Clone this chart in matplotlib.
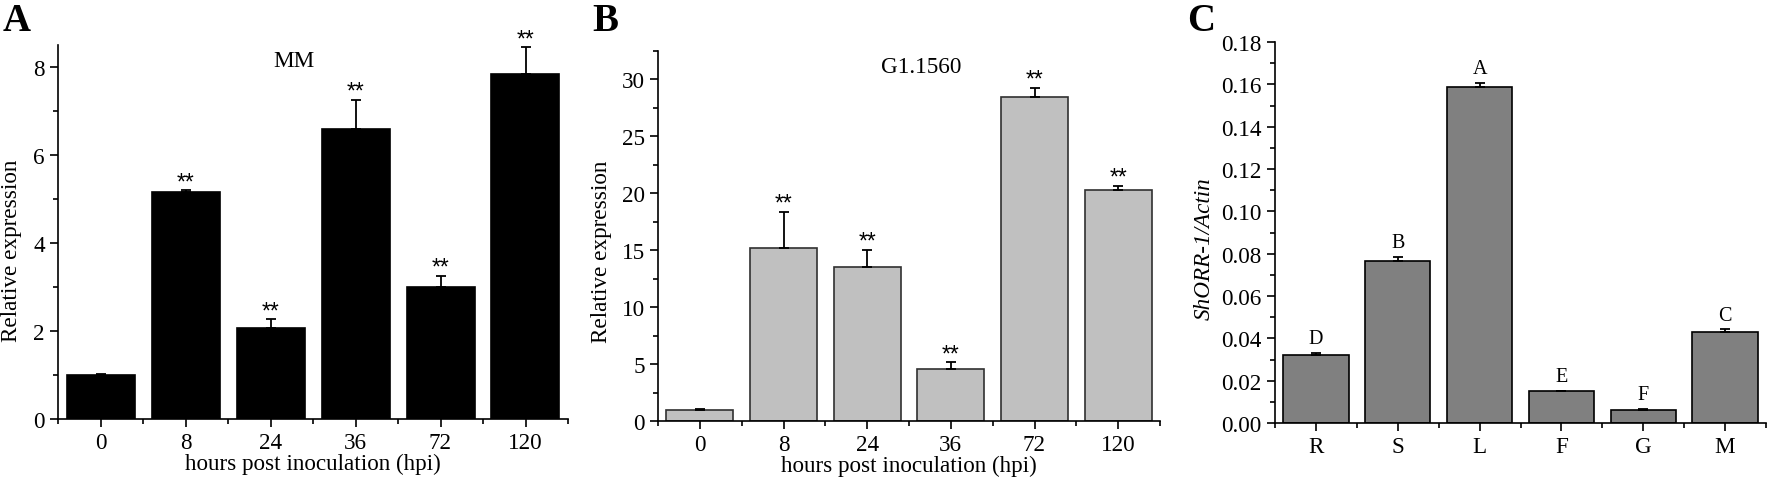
import matplotlib
matplotlib.use("Agg")
import matplotlib.pyplot as plt
import numpy as np
from matplotlib.ticker import MultipleLocator, FormatStrFormatter

# --- data ---
hpi_labels = ["0", "8", "24", "36", "72", "120"]

mm_values = [1.0, 5.15, 2.07, 6.58, 3.0, 7.85]
mm_errors = [0.03, 0.05, 0.2, 0.68, 0.25, 0.6]

g1_values = [1.0, 15.2, 13.5, 4.55, 28.5, 20.3]
g1_errors = [0.08, 3.15, 1.55, 0.6, 0.75, 0.38]

tissue_labels = ["R", "S", "L", "F", "G", "M"]
tissue_values = [0.0319, 0.0767, 0.1588, 0.0149, 0.0063, 0.0432]
tissue_errors = [0.0013, 0.0018, 0.0018, 0.0004, 0.0004, 0.0010]
tissue_groups = ["D", "B", "A", "E", "F", "C"]

SERIF = "Liberation Serif"
FS = 16.7
plt.rcParams["font.family"] = SERIF
plt.rcParams["font.size"] = FS

W, H = 1772, 485
fig = plt.figure(figsize=(W / 100, H / 100), dpi=100)


def px_axes(left, right, top, bottom):
    return fig.add_axes([left / W, 1 - bottom / H, (right - left) / W, (bottom - top) / H])


def style_axes(ax, ylim, major, minor, xlabels):
    ax.set_xlim(-0.5, 5.5)
    ax.set_ylim(*ylim)
    for s in ("top", "right"):
        ax.spines[s].set_visible(False)
    for s in ("left", "bottom"):
        ax.spines[s].set_linewidth(1.2)
    ax.yaxis.set_major_locator(MultipleLocator(major))
    ax.yaxis.set_minor_locator(MultipleLocator(minor))
    ax.set_xticks(range(len(xlabels)))
    ax.set_xticklabels(xlabels)
    ax.set_xticks(np.arange(-0.5, 6.0, 1.0), minor=True)
    ax.tick_params(which="major", direction="out", length=5.5, width=1.2, pad=4, labelsize=FS)
    ax.tick_params(which="minor", direction="out", length=3.5, width=1.2)


def draw_bars(ax, values, errors, color, edge):
    x = np.arange(len(values))
    ax.bar(x, values, width=0.8, color=color, edgecolor=edge, linewidth=1.2, zorder=2)
    ax.errorbar(x, values, yerr=[np.zeros(len(errors)), errors], fmt="none",
                ecolor="black", elinewidth=1.3, capsize=3.5, capthick=1.3, zorder=3)
    return x


def add_marks(ax, x, values, errors, marks, offset, family, size):
    for xi, v, e, m in zip(x, values, errors, marks):
        ax.annotate(m, (xi, v + e), xytext=(0, offset), textcoords="offset points",
                    ha="center", va="baseline", family=family, fontsize=size)


# --- A: MM ---
axA = px_axes(58, 568, 46, 420)
style_axes(axA, (0, 8.5), 2, 1, hpi_labels)
xA = draw_bars(axA, mm_values, mm_errors, "black", "black")
add_marks(axA, xA[1:], mm_values[1:], mm_errors[1:], ["**"] * 5, 1.5, "Liberation Sans", 16.5)
axA.text(2.28, 8.14, "MM", ha="center", va="center", fontsize=FS)
axA.set_ylabel("Relative expression", fontsize=FS)
axA.yaxis.set_label_coords(-0.07, 0.452)
axA.set_xlabel("hours post inoculation (hpi)", fontsize=FS, labelpad=0)

# --- B: G1.1560 ---
axB = px_axes(658, 1160, 52, 422)
style_axes(axB, (0, 32.5), 5, 2.5, hpi_labels)
xB = draw_bars(axB, g1_values, g1_errors, "#c0c0c0", "#303030")
add_marks(axB, xB[1:], g1_values[1:], g1_errors[1:], ["**"] * 5, 1.5, "Liberation Sans", 16.5)
axB.text(2.64, 31.1, "G1.1560", ha="center", va="center", fontsize=FS)
axB.set_ylabel("Relative expression", fontsize=FS)
axB.yaxis.set_label_coords(-0.092, 0.46)
axB.set_xlabel("hours post inoculation (hpi)", fontsize=FS, labelpad=0)

# --- C: tissues ---
axC = px_axes(1275, 1766, 43, 424)
style_axes(axC, (0, 0.18), 0.02, 0.01, tissue_labels)
axC.yaxis.set_major_formatter(FormatStrFormatter("%.2f"))
xC = draw_bars(axC, tissue_values, tissue_errors, "#808080", "black")
add_marks(axC, xC, tissue_values, tissue_errors, tissue_groups, 7, SERIF, 14.5)
axC.set_ylabel("ShORR-1/Actin", fontsize=FS, style="italic")
axC.yaxis.set_label_coords(-0.122, 0.46)

# panel letters
for label, xpx in (("A", 3), ("B", 592), ("C", 1187)):
    fig.text(xpx / W, 1 - 31 / H, label, fontsize=28, fontweight="bold",
             ha="left", va="baseline")

fig.savefig("out.png", dpi=100, facecolor="white")
